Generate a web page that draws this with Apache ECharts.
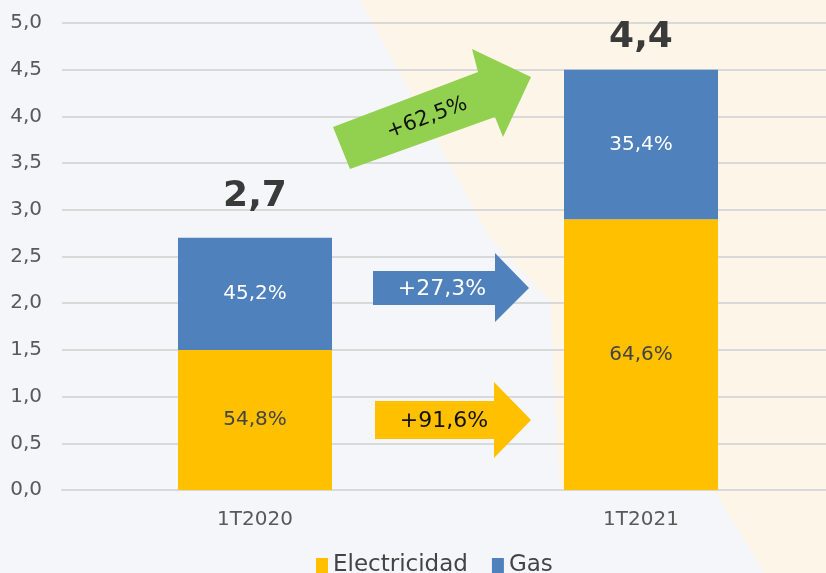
<!DOCTYPE html>
<html>
<head>
<meta charset="utf-8">
<script src="https://cdn.jsdelivr.net/npm/echarts@6/dist/echarts.min.js"></script>
<style>
  html, body { margin: 0; padding: 0; background: #f5f6f9; }
  #chart { width: 826px; height: 573px; }
</style>
</head>
<body>
<div id="chart"></div>
<script>
// datos
var categories = ["1T2020", "1T2021"];
var electricidad = [1.5, 2.9];
var gas = [1.2, 1.6];
var totalLabels = ["2,7", "4,4"];
var shareElec = ["54,8%", "64,6%"];
var shareGas = ["45,2%", "35,4%"];
var yTicks = [0, 0.5, 1, 1.5, 2, 2.5, 3, 3.5, 4, 4.5, 5];
var growthGas = "+27,3%";
var growthElec = "+91,6%";
var growthTotal = "+62,5%";

var FONT = "DejaVu Sans";
var chart = echarts.init(document.getElementById("chart"));

function fmtTick(v) {
  return v.toFixed(1).replace(".", ",");
}

var option = {
  backgroundColor: "#f5f6f9",
  textStyle: { fontFamily: FONT },
  grid: { left: 62, top: 23, width: 772, bottom: 83, outerBoundsMode: "none" },
  legend: {
    data: ["Electricidad", "Gas"],
    top: 549,
    left: 311,
    itemWidth: 12,
    itemHeight: 15,
    itemGap: 24,
    icon: "rect",
    textStyle: { fontFamily: FONT, fontSize: 23, color: "#444" }
  },
  xAxis: {
    type: "category",
    data: categories,
    axisLine: { lineStyle: { color: "#d9d9d9", width: 2 } },
    axisTick: { show: false },
    axisLabel: { fontSize: 20, color: "#595959", margin: 20 }
  },
  yAxis: {
    type: "value",
    min: yTicks[0],
    max: yTicks[yTicks.length - 1],
    interval: 0.5,
    axisLabel: {
      fontSize: 20, color: "#595959", margin: 20,
      formatter: fmtTick
    },
    splitLine: { lineStyle: { color: "#d9d9d9", width: 2 } }
  },
  series: [
    {
      name: "Electricidad",
      type: "bar",
      stack: "total",
      barWidth: 154,
      itemStyle: { color: "#ffc000" },
      label: {
        show: true, position: "inside", fontSize: 20, color: "#444",
        formatter: function (p) { return shareElec[p.dataIndex]; }
      },
      data: electricidad
    },
    {
      name: "Gas",
      type: "bar",
      stack: "total",
      barWidth: 154,
      itemStyle: { color: "#4f81bd" },
      label: {
        show: true, position: "inside", fontSize: 20, color: "#fff",
        formatter: function (p) { return shareGas[p.dataIndex]; }
      },
      data: gas
    },
    {
      name: "Total",
      type: "bar",
      stack: "total",
      barWidth: 154,
      itemStyle: { color: "transparent" },
      silent: true,
      data: categories.map(function (c, i) {
        return {
          value: 0,
          label: {
            show: true, position: "top",
            distance: i === 0 ? 23 : 14,
            formatter: totalLabels[i],
            fontSize: 36, fontWeight: "bold", color: "#3a3a3a"
          }
        };
      })
    }
  ],
  graphic: [
    {
      type: "polygon", z: -10, silent: true,
      shape: {
        points: [[360, 0], [826, 0], [826, 573], [765, 573], [715, 492],
                 [560, 488], [550, 300], [490, 238]]
      },
      style: { fill: "#fdf5e8" }
    },
    {
      type: "polygon", z: 10,
      shape: { points: [[373, 271], [495, 271], [495, 253], [529, 288],
                        [495, 322], [495, 305], [373, 305]] },
      style: { fill: "#4f81bd" }
    },
    {
      type: "text", z: 11, x: 442, y: 289,
      style: { text: growthGas, fill: "#fff", font: "22px 'DejaVu Sans'",
               textAlign: "center", textVerticalAlign: "middle" }
    },
    {
      type: "polygon", z: 10,
      shape: { points: [[375, 401], [494, 401], [494, 382], [531, 420],
                        [494, 458], [494, 439], [375, 439]] },
      style: { fill: "#ffc000" }
    },
    {
      type: "text", z: 11, x: 444, y: 421,
      style: { text: growthElec, fill: "#111", font: "22px 'DejaVu Sans'",
               textAlign: "center", textVerticalAlign: "middle" }
    },
    {
      type: "polygon", z: 10,
      shape: { points: [[333, 127], [478, 72], [472, 49], [531, 77],
                        [503, 137], [495, 117], [350, 169]] },
      style: { fill: "#92d050" }
    },
    {
      type: "text", z: 11, x: 427, y: 118, rotation: 0.36,
      style: { text: growthTotal, fill: "#111", font: "21px 'DejaVu Sans'",
               textAlign: "center", textVerticalAlign: "middle" }
    }
  ]
};

chart.setOption(option);
</script>
</body>
</html>
